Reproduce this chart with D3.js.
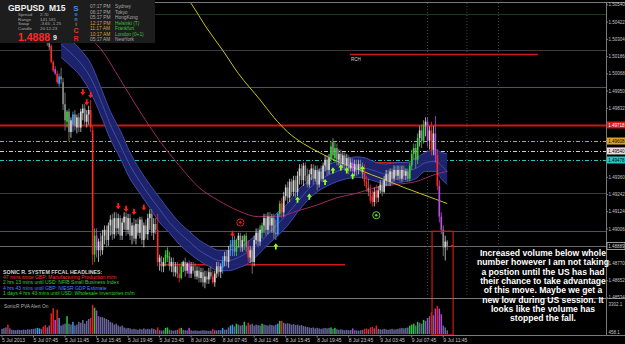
<!DOCTYPE html>
<html>
<head>
<meta charset="utf-8">
<script src="https://cdn.jsdelivr.net/npm/d3@7"></script>
<style>
  html, body { margin: 0; padding: 0; background: #000; }
  svg { display: block; }
  text { font-family: "Liberation Sans", Arial, sans-serif; }
</style>
</head>
<body>
<svg id="chart" width="625" height="344"></svg>
<script>
// ---- data (GBPUSD M15) ----
const candleStart = 23; // first visible bar index
const ohlc = [
  [1.5033,1.5037,1.5026,1.5029],[1.5029,1.5031,1.5023,1.5025],[1.5026,1.5027,1.5014,1.5015],[1.5015,1.5016,1.5008,1.5009],
  [1.5010,1.5012,1.5006,1.5007],[1.5007,1.5009,1.5000,1.5001],[1.5000,1.5007,1.4998,1.5005],[1.5005,1.5011,1.5000,1.5003],
  [1.5001,1.5004,1.4982,1.4986],[1.4986,1.4994,1.4968,1.4975],[1.4974,1.4982,1.4970,1.4981],[1.4981,1.4983,1.4961,1.4967],
  [1.4967,1.4977,1.4963,1.4975],[1.4972,1.4981,1.4967,1.4979],[1.4979,1.4982,1.4968,1.4971],[1.4970,1.4979,1.4966,1.4977],
  [1.4977,1.4980,1.4967,1.4970],[1.4970,1.4983,1.4967,1.4981],[1.4980,1.4986,1.4975,1.4983],[1.4983,1.4986,1.4972,1.4974],
  [1.4974,1.4982,1.4970,1.4979],[1.4979,1.4985,1.4972,1.4982],[1.4982,1.4989,1.4967,1.4970],[1.4968,1.4971,1.4876,1.4883],
  [1.4883,1.4901,1.4878,1.4896],[1.4896,1.4901,1.4881,1.4886],[1.4886,1.4894,1.4878,1.4892],[1.4892,1.4898,1.4882,1.4886],
  [1.4886,1.4900,1.4883,1.4896],[1.4896,1.4903,1.4890,1.4900],[1.4900,1.4903,1.4888,1.4893],[1.4893,1.4905,1.4889,1.4903],
  [1.4903,1.4910,1.4896,1.4907],[1.4907,1.4911,1.4893,1.4897],[1.4897,1.4912,1.4894,1.4908],[1.4908,1.4912,1.4896,1.4901],
  [1.4901,1.4911,1.4897,1.4908],[1.4908,1.4910,1.4893,1.4896],[1.4896,1.4908,1.4893,1.4905],[1.4905,1.4912,1.4900,1.4909],
  [1.4909,1.4912,1.4896,1.4900],[1.4900,1.4911,1.4897,1.4908],[1.4908,1.4911,1.4893,1.4896],[1.4896,1.4905,1.4890,1.4903],
  [1.4903,1.4908,1.4892,1.4894],[1.4894,1.4907,1.4890,1.4904],[1.4904,1.4908,1.4896,1.4898],[1.4898,1.4909,1.4894,1.4907],
  [1.4907,1.4909,1.4890,1.4893],[1.4893,1.4905,1.4888,1.4903],[1.4903,1.4907,1.4894,1.4897],[1.4897,1.4911,1.4893,1.4908],
  [1.4908,1.4914,1.4900,1.4911],[1.4911,1.4914,1.4896,1.4898],[1.4898,1.4908,1.4893,1.4904],[1.4904,1.4908,1.4897,1.4900],
  [1.4900,1.4911,1.4875,1.4878],[1.4878,1.4883,1.4872,1.4881],[1.4878,1.4882,1.4871,1.4875],[1.4875,1.4881,1.4871,1.4878],
  [1.4878,1.4886,1.4875,1.4883],[1.4881,1.4888,1.4878,1.4886],[1.4882,1.4885,1.4872,1.4875],[1.4875,1.4881,1.4871,1.4878],
  [1.4878,1.4881,1.4868,1.4871],[1.4871,1.4878,1.4868,1.4875],[1.4875,1.4878,1.4867,1.4870],[1.4870,1.4877,1.4864,1.4867],
  [1.4867,1.4878,1.4866,1.4875],[1.4875,1.4879,1.4871,1.4878],[1.4878,1.4881,1.4868,1.4872],[1.4872,1.4878,1.4870,1.4877],
  [1.4877,1.4879,1.4867,1.4870],[1.4870,1.4878,1.4867,1.4875],[1.4875,1.4878,1.4870,1.4872],[1.4872,1.4877,1.4866,1.4868],
  [1.4868,1.4875,1.4866,1.4872],[1.4872,1.4875,1.4864,1.4867],[1.4867,1.4874,1.4864,1.4871],[1.4871,1.4874,1.4861,1.4864],
  [1.4864,1.4872,1.4860,1.4868],[1.4868,1.4872,1.4863,1.4866],[1.4866,1.4874,1.4863,1.4871],[1.4871,1.4875,1.4866,1.4868],
  [1.4868,1.4872,1.4863,1.4864],[1.4864,1.4872,1.4861,1.4870],[1.4870,1.4878,1.4867,1.4875],[1.4875,1.4878,1.4868,1.4871],
  [1.4871,1.4877,1.4867,1.4875],[1.4874,1.4882,1.4870,1.4879],[1.4879,1.4885,1.4875,1.4882],[1.4882,1.4886,1.4875,1.4878],
  [1.4878,1.4889,1.4874,1.4886],[1.4886,1.4893,1.4882,1.4890],[1.4889,1.4896,1.4882,1.4893],[1.4893,1.4896,1.4882,1.4885],
  [1.4885,1.4894,1.4882,1.4893],[1.4893,1.4898,1.4888,1.4896],[1.4896,1.4898,1.4885,1.4888],[1.4888,1.4896,1.4885,1.4893],
  [1.4892,1.4897,1.4886,1.4896],[1.4896,1.4898,1.4885,1.4888],[1.4889,1.4893,1.4878,1.4881],[1.4881,1.4889,1.4877,1.4886],
  [1.4886,1.4889,1.4870,1.4878],[1.4878,1.4896,1.4875,1.4893],[1.4893,1.4901,1.4890,1.4898],[1.4898,1.4901,1.4888,1.4892],
  [1.4892,1.4903,1.4889,1.4900],[1.4898,1.4905,1.4894,1.4903],[1.4903,1.4911,1.4898,1.4908],[1.4908,1.4911,1.4896,1.4900],
  [1.4900,1.4912,1.4897,1.4909],[1.4909,1.4912,1.4898,1.4903],[1.4903,1.4911,1.4898,1.4908],[1.4908,1.4911,1.4894,1.4898],
  [1.4898,1.4907,1.4893,1.4897],[1.4897,1.4912,1.4896,1.4911],[1.4911,1.4920,1.4909,1.4918],[1.4918,1.4922,1.4908,1.4912],
  [1.4912,1.4926,1.4909,1.4923],[1.4923,1.4931,1.4920,1.4929],[1.4929,1.4933,1.4918,1.4922],[1.4922,1.4935,1.4919,1.4933],
  [1.4933,1.4935,1.4923,1.4926],[1.4926,1.4937,1.4923,1.4934],[1.4934,1.4937,1.4922,1.4926],[1.4926,1.4940,1.4923,1.4937],
  [1.4937,1.4945,1.4931,1.4942],[1.4942,1.4945,1.4931,1.4934],[1.4934,1.4946,1.4930,1.4944],[1.4944,1.4946,1.4933,1.4937],
  [1.4937,1.4942,1.4929,1.4931],[1.4931,1.4941,1.4929,1.4938],[1.4938,1.4945,1.4934,1.4942],[1.4942,1.4945,1.4931,1.4935],
  [1.4935,1.4944,1.4933,1.4941],[1.4941,1.4944,1.4927,1.4931],[1.4931,1.4942,1.4929,1.4940],[1.4940,1.4944,1.4933,1.4935],
  [1.4935,1.4946,1.4933,1.4944],[1.4944,1.4951,1.4940,1.4948],[1.4948,1.4951,1.4937,1.4941],[1.4941,1.4952,1.4938,1.4949],
  [1.4948,1.4961,1.4945,1.4957],[1.4960,1.4963,1.4948,1.4951],[1.4949,1.4960,1.4946,1.4956],[1.4956,1.4959,1.4944,1.4948],
  [1.4948,1.4955,1.4944,1.4952],[1.4952,1.4955,1.4942,1.4945],[1.4945,1.4953,1.4942,1.4951],[1.4951,1.4953,1.4941,1.4944],
  [1.4944,1.4952,1.4941,1.4949],[1.4949,1.4951,1.4938,1.4942],[1.4942,1.4949,1.4940,1.4946],[1.4946,1.4949,1.4937,1.4940],
  [1.4940,1.4948,1.4937,1.4945],[1.4945,1.4948,1.4937,1.4941],[1.4941,1.4948,1.4938,1.4945],[1.4945,1.4948,1.4940,1.4942],
  [1.4942,1.4946,1.4935,1.4938],[1.4940,1.4945,1.4930,1.4933],[1.4933,1.4937,1.4926,1.4929],[1.4929,1.4935,1.4923,1.4926],
  [1.4927,1.4931,1.4918,1.4920],[1.4923,1.4927,1.4916,1.4919],[1.4919,1.4929,1.4916,1.4926],[1.4927,1.4931,1.4918,1.4922],
  [1.4922,1.4930,1.4919,1.4927],[1.4927,1.4934,1.4925,1.4931],[1.4931,1.4934,1.4923,1.4926],[1.4926,1.4937,1.4925,1.4934],
  [1.4934,1.4941,1.4930,1.4938],[1.4938,1.4941,1.4930,1.4933],[1.4933,1.4942,1.4930,1.4940],[1.4940,1.4942,1.4931,1.4935],
  [1.4935,1.4944,1.4933,1.4941],[1.4941,1.4944,1.4934,1.4937],[1.4937,1.4944,1.4934,1.4941],[1.4941,1.4944,1.4933,1.4935],
  [1.4935,1.4944,1.4933,1.4941],[1.4941,1.4944,1.4934,1.4937],[1.4937,1.4942,1.4934,1.4940],[1.4940,1.4942,1.4933,1.4935],
  [1.4935,1.4946,1.4933,1.4944],[1.4944,1.4955,1.4941,1.4952],[1.4952,1.4959,1.4948,1.4956],[1.4956,1.4959,1.4942,1.4948],
  [1.4948,1.4966,1.4945,1.4963],[1.4963,1.4971,1.4957,1.4968],[1.4968,1.4972,1.4956,1.4961],[1.4961,1.4975,1.4959,1.4972],
  [1.4972,1.4977,1.4964,1.4974],[1.4974,1.4977,1.4957,1.4961],[1.4961,1.4971,1.4955,1.4968],[1.4968,1.4974,1.4951,1.4955],
  [1.4955,1.4971,1.4951,1.4966],[1.4966,1.4978,1.4946,1.4951],[1.4951,1.4955,1.4927,1.4930],[1.4930,1.4934,1.4905,1.4909],
  [1.4909,1.4912,1.4897,1.4900],[1.4900,1.4903,1.4882,1.4888],[1.4888,1.4896,1.4879,1.4892],[1.4892,1.4893,1.4886,1.4889]
];

// PVA class per bar from bar 0: . normal, r bear climax, g bull climax, b bull rising, m bear rising
const pvaType = [
  "...r......", "........bb", ".rr..rrmrb", "...g..b...", ".....rrgm.",
  "..........", "..........", ".........r", "...gg.....", "rg...m....",
  ".......r..", "..b...bb.g", "...g.r....", "..g.......", "bgr.......",
  "..........", ".......g.g", "........m.", "....rr.rr.", "r.........",
  ".......ggg", ".g..g.m.r.", "mrmm..."
].join("");

const volume = [
  550,620,700,1000,600,450,420,400,450,430,
  420,470,440,500,480,520,550,600,650,600,
  550,800,950,700,900,2200,2750,1500,2600,1700,
  900,1000,1100,1900,1100,1000,1300,900,1000,1300,
  1200,1500,1100,1400,1600,1700,3100,2800,2500,1900,
  1800,1800,1700,1600,1500,1300,1200,1000,1100,900,
  800,900,700,600,650,600,500,550,500,450,
  550,500,600,500,550,500,600,550,450,700,
  400,350,400,650,700,450,400,350,400,450,
  600,650,450,400,380,650,400,350,380,350,
  330,360,400,380,350,340,360,550,400,380,
  420,400,650,450,480,700,900,1000,800,1100,
  1000,900,950,1300,900,1200,1000,1100,900,1000,
  950,900,1100,1000,950,900,1000,950,900,1000,
  1100,1400,1400,1200,1100,1150,1100,1000,1050,950,
  1000,900,950,850,800,750,700,650,700,600,
  650,600,550,600,650,600,650,700,550,650,
  500,450,500,450,400,450,400,420,600,400,
  380,350,400,420,550,600,500,700,750,600,
  900,550,500,480,550,500,450,500,550,480,
  500,550,600,650,600,650,700,900,1000,1100,
  900,1300,1200,1100,1500,1400,1700,1900,2300,2000,
  2700,3000,2700,2100,900,700,400
];

// Sonic R dragon (EMA34 of high / close / low)
const dragonBars = [30,35,40,45,50,55,60,65,70,75,80,85,90,95,100,105,110,115,120,125,130,135,140,145,150,155,160,165,170,175,180,185,190,195,200,205,210,215,220,223,226];
const dragonHigh = [1.5035,1.5030,1.5023,1.5014,1.4998,1.4981,1.4968,1.4953,1.4941,1.4931,1.4922,1.4913,1.4905,1.4899,1.4893,1.4889,1.4886,1.4886,1.4888,1.4892,1.4898,1.4905,1.4912,1.4918,1.4927,1.4933,1.4940,1.4944,1.4947,1.4949,1.4950,1.4949,1.4946,1.4945,1.4946,1.4946,1.4949,1.4953,1.4955,1.4953,1.4952];
const dragonClose = [1.5027,1.5021,1.5014,1.5004,1.4989,1.4972,1.4958,1.4944,1.4933,1.4923,1.4914,1.4905,1.4898,1.4892,1.4886,1.4882,1.4879,1.4879,1.4881,1.4885,1.4890,1.4897,1.4904,1.4911,1.4919,1.4927,1.4933,1.4937,1.4940,1.4942,1.4943,1.4942,1.4940,1.4938,1.4939,1.4940,1.4942,1.4946,1.4947,1.4944,1.4940];
const dragonLow = [1.5018,1.5012,1.5005,1.4994,1.4979,1.4962,1.4949,1.4935,1.4925,1.4915,1.4905,1.4898,1.4890,1.4884,1.4879,1.4875,1.4872,1.4872,1.4874,1.4877,1.4883,1.4890,1.4896,1.4903,1.4912,1.4920,1.4926,1.4930,1.4933,1.4935,1.4936,1.4935,1.4933,1.4931,1.4932,1.4933,1.4935,1.4940,1.4940,1.4935,1.4931];

const ema89Bars = [45,50,60,70,80,90,100,110,120,130,140,150,160,170,180,190,200,210,220,226];
const ema89 = [1.5031,1.5024,1.5003,1.4981,1.4961,1.4944,1.4929,1.4920,1.4913,1.4909,1.4909,1.4913,1.4917,1.4922,1.4925,1.4929,1.4931,1.4933,1.4938,1.4940];

const ema200Bars = [90,96,104,112,120,131,138,145,153,161,170,178,187,195,204,212,220,226];
const ema200 = [1.5066,1.5055,1.5038,1.5023,1.5007,1.4989,1.4977,1.4967,1.4959,1.4953,1.4947,1.4943,1.4938,1.4934,1.4929,1.4925,1.4921,1.4918];

const sellBars = [41,43,45,59,63,67,72,117];
const sellPrices = [1.4994,1.4987,1.4992,1.4916,1.4914,1.4912,1.4915,1.4897];
const buyBars = [139,150,156,164,168,172,175,178,183];
const buyPrices = [1.4889,1.4921,1.4923,1.4933,1.4941,1.4943,1.4941,1.4937,1.4942];
const markBars = [121,190];
const markPrices = [1.4905,1.4910];

const levelPrices = [1.5048,1.5023,1.4998,1.49718,1.49608,1.49540,1.49478,1.4925,1.4899,1.48889];
const segPrices = [1.5020,1.4946,1.4876];
const segFrom = [176.6,176.6,80.2];
const segTo = [272,222.3,174.1];
const newsBars = [216,236,252];
const boxBars = [218.3,229];
const boxTopPrice = 1.4899;

const priceTicks = [1.50540,1.50422,1.50304,1.50186,1.50068,1.49950,1.49832,1.49714,1.49596,1.49478,1.49360,1.49242,1.49124,1.49006,1.48888,1.48770,1.48652,1.48534];
const timeTickBars = [0,16,32,48,64,80,96,112,128,144,160,176,192,208,224];
const timeTickLabels = ["5 Jul 2013","5 Jul 07:45","5 Jul 11:45","5 Jul 15:45","5 Jul 19:45","5 Jul 23:45","8 Jul 03:45","8 Jul 07:45","8 Jul 11:45","8 Jul 15:45","8 Jul 19:45","8 Jul 23:45","9 Jul 03:45","9 Jul 07:45","9 Jul 11:45"];
const volTicks = [3302.1, 458.1];

const sessionTimes = ["07:17 PM","06:17 PM","05:17 PM","12:17 PM","11:17 AM","10:17 AM","05:17 AM"];
const sessionCities = ["Sydney","Tokyo","HongKong","Helsinki (T)","Frankfurt","London (0+1)","NewYork"];
const headlines = [
  "47 mins since GBP: Manufacturing Production m/m",
  "2 hrs 13 mins until USD: NFIB Small Business Index",
  "4 hrs 43 mins until GBP: NIESR GDP Estimate",
  "1 days 4 hrs 43 mins until USD: Wholesale Inventories m/m"
];
const noteLines = [
  "Increased volume below whole",
  "number however I am not taking",
  "a postion until the US has had",
  "their chance to take advantage",
  "of this move. Maybe we get a",
  "new low during US session.  It",
  "looks like the volume has",
  "stopped the fall."
];

// ---- scales ----
const svg = d3.select("#chart");
const axisX = 606;
const x = d3.scaleLinear().domain([0, 304]).range([2, 2 + 304 * 1.97]);
const y = d3.scaleLinear().domain([1.48540, 1.50553]).range([297, 3]);
const vy = d3.scaleLinear().domain([0, 3302.1]).range([334, 303]);

svg.append("rect").attr("width", 625).attr("height", 344).attr("fill", "#000");

const defs = svg.append("defs");
defs.append("clipPath").attr("id", "clipMain").append("rect")
  .attr("x", 0).attr("y", 3).attr("width", axisX).attr("height", 294);
defs.append("clipPath").attr("id", "clipVol").append("rect")
  .attr("x", 0).attr("y", 300).attr("width", axisX).attr("height", 35);

const main = svg.append("g").attr("clip-path", "url(#clipMain)");

// horizontal levels
const levelStyle = [
  { c: "#1d3a1d", w: 1, d: null },
  { c: "#3c3c3c", w: 1, d: null },
  { c: "#4a4a96", w: 1, d: null },
  { c: "#c81818", w: 2, d: null },
  { c: "#e0a030", w: 1, d: "4,2,1,2" },
  { c: "#e6c8cc", w: 1, d: "4,2,1,2" },
  { c: "#20c4c4", w: 1, d: "4,2,1,2" },
  { c: "#3c3c3c", w: 1, d: null },
  { c: "#4a4a96", w: 1, d: null },
  { c: "#6a6a6a", w: 1, d: null }
];
main.selectAll(".level").data(levelPrices).enter().append("line")
  .attr("x1", 0).attr("x2", axisX)
  .attr("y1", d => Math.round(y(d)) + 0.5).attr("y2", d => Math.round(y(d)) + 0.5)
  .attr("stroke", (d, i) => levelStyle[i].c)
  .attr("stroke-width", (d, i) => levelStyle[i].w)
  .attr("stroke-dasharray", (d, i) => levelStyle[i].d);

// drawn red segments
main.selectAll(".seg").data(segPrices).enter().append("line")
  .attr("x1", (d, i) => x(segFrom[i])).attr("x2", (d, i) => x(segTo[i]))
  .attr("y1", d => y(d)).attr("y2", d => y(d))
  .attr("stroke", "#d01818").attr("stroke-width", 1.5);
main.append("text").attr("x", x(segFrom[0]) + 1).attr("y", y(segPrices[0]) + 6)
  .attr("fill", "#d8d8d8").attr("font-size", 4.5).text("RCH");

// news vertical lines
main.selectAll(".news").data(newsBars).enter().append("line")
  .attr("x1", d => x(d)).attr("x2", d => x(d)).attr("y1", 3).attr("y2", 297)
  .attr("stroke", "#444").attr("stroke-dasharray", "1,2");

// dragon band
const dragon = dragonBars.map((b, i) => ({ b, h: dragonHigh[i], c: dragonClose[i], l: dragonLow[i] }));
main.append("path").datum(dragon)
  .attr("d", d3.area().x(d => x(d.b)).y0(d => y(d.l)).y1(d => y(d.h)).curve(d3.curveMonotoneX))
  .attr("fill", "#1e2570").attr("opacity", 0.95);
["h", "c", "l"].forEach(k => {
  main.append("path").datum(dragon)
    .attr("d", d3.line().x(d => x(d.b)).y(d => y(d[k])).curve(d3.curveMonotoneX))
    .attr("fill", "none").attr("stroke", "#4550b2").attr("stroke-width", 0.9);
});

// EMA 89 and EMA 200
main.append("path").datum(ema89Bars.map((b, i) => [b, ema89[i]]))
  .attr("d", d3.line().x(d => x(d[0])).y(d => y(d[1])).curve(d3.curveMonotoneX))
  .attr("fill", "none").attr("stroke", "#9a2c62").attr("stroke-width", 1);
main.append("path").datum(ema200Bars.map((b, i) => [b, ema200[i]]))
  .attr("d", d3.line().x(d => x(d[0])).y(d => y(d[1])).curve(d3.curveMonotoneX))
  .attr("fill", "none").attr("stroke", "#c8c41c").attr("stroke-width", 1);

// candles
const pvaColor = { r: "#ff2a2a", g: "#2edc2e", b: "#3aa0ff", m: "#c04ce6" };
const candles = ohlc.map((d, k) => {
  const i = candleStart + k;
  const t = pvaType[i] || ".";
  const bull = d[3] >= d[0];
  return { i, o: d[0], h: d[1], l: d[2], c: d[3],
    col: t !== "." ? pvaColor[t] : (bull ? "#d6d6d6" : "#8c8c8c") };
});
const cg = main.append("g");
cg.selectAll(".wick").data(candles).enter().append("line")
  .attr("x1", d => x(d.i)).attr("x2", d => x(d.i))
  .attr("y1", d => y(d.h)).attr("y2", d => y(d.l))
  .attr("stroke", d => d.col).attr("stroke-width", 0.8);
cg.selectAll(".body").data(candles).enter().append("rect")
  .attr("x", d => x(d.i) - 0.8).attr("width", 1.6)
  .attr("y", d => y(Math.max(d.o, d.c)))
  .attr("height", d => Math.max(0.7, Math.abs(y(d.o) - y(d.c))))
  .attr("fill", d => d.col);

// signal arrows
const downArrow = "M-0.9,-3.5h1.8v3h1.6l-2.5,3.2l-2.5,-3.2h1.6z";
const upArrow = "M-0.9,3.5h1.8v-3h1.6l-2.5,-3.2l-2.5,3.2h1.6z";
main.selectAll(".sell").data(sellBars).enter().append("path")
  .attr("transform", (d, i) => `translate(${x(d)},${y(sellPrices[i])})`)
  .attr("d", downArrow).attr("fill", "#ff1e1e");
main.selectAll(".buy").data(buyBars).enter().append("path")
  .attr("transform", (d, i) => `translate(${x(d)},${y(buyPrices[i])})`)
  .attr("d", upArrow).attr("fill", "#8cff1a");
const markCol = ["#e02020", "#5ad22a"];
markBars.forEach((b, i) => {
  const g = main.append("g").attr("transform", `translate(${x(b)},${y(markPrices[i])})`);
  g.append("circle").attr("r", 3.6).attr("fill", "none").attr("stroke", markCol[i]).attr("stroke-width", 1);
  g.append("circle").attr("r", 1.3).attr("fill", markCol[i]);
});
main.append("circle").attr("cx", x(boxBars[1]) - 1).attr("cy", y(levelPrices[9])).attr("r", 1.3).attr("fill", "#e02020");

// volume window (Sonic R PVA)
const vol = svg.append("g").attr("clip-path", "url(#clipVol)");
const volColor = { r: "#e42222", g: "#28c83c", b: "#3a9ae6", m: "#b444d8" };
vol.selectAll(".vbar").data(volume).enter().append("rect")
  .attr("x", (d, i) => x(i) - 0.75).attr("width", 1.5)
  .attr("y", d => vy(d)).attr("height", d => vy(0) - vy(d))
  .attr("fill", (d, i) => volColor[pvaType[i]] || "#66669a");
svg.append("text").attr("x", 4).attr("y", 307.5).attr("fill", "#b0b0b0")
  .attr("font-size", 4.8).text("SonicR PVA   Alert On");

// red box across both windows
svg.append("rect")
  .attr("x", x(boxBars[0])).attr("y", y(boxTopPrice))
  .attr("width", x(boxBars[1]) - x(boxBars[0])).attr("height", vy(0) + 1 - y(boxTopPrice))
  .attr("fill", "none").attr("stroke", "#d01818").attr("stroke-width", 1.2);

// frame
const frame = svg.append("g").attr("stroke", "#7a7a7a").attr("stroke-width", 1);
frame.append("line").attr("x1", 0).attr("x2", 625).attr("y1", 2.5).attr("y2", 2.5);
frame.append("line").attr("x1", 0).attr("x2", 625).attr("y1", 298.5).attr("y2", 298.5);
frame.append("line").attr("x1", 0).attr("x2", 625).attr("y1", 335.5).attr("y2", 335.5);
frame.append("line").attr("x1", axisX + 0.5).attr("x2", axisX + 0.5).attr("y1", 2).attr("y2", 336);

// price axis
const pa = svg.append("g");
pa.selectAll(".pt").data(priceTicks).enter().append("text")
  .attr("x", axisX + 2.5).attr("y", d => y(d) + 1.6)
  .attr("fill", "#c4c4c4").attr("font-size", 4.5).text(d => d.toFixed(5));
pa.selectAll(".ptk").data(priceTicks).enter().append("line")
  .attr("x1", axisX).attr("x2", axisX + 2).attr("y1", d => y(d)).attr("y2", d => y(d))
  .attr("stroke", "#7a7a7a");
// price markers on axis
const markerIdx = [3, 4, 5, 6, 9];
const markerFill = ["#d01818", "#e0a030", "#f0dcdc", "#22c8c8", "#000"];
const markerText = ["#fff", "#000", "#000", "#000", "#d0d0d0"];
markerIdx.forEach((li, k) => {
  const py = y(levelPrices[li]);
  pa.append("rect").attr("x", axisX + 1).attr("y", py - 3.5).attr("width", 18).attr("height", 7)
    .attr("fill", markerFill[k]).attr("stroke", k === 4 ? "#c0c0c0" : "none").attr("stroke-width", 0.8);
  pa.append("text").attr("x", axisX + 2.3).attr("y", py + 1.6).attr("fill", markerText[k])
    .attr("font-size", 4.5).text(levelPrices[li].toFixed(5));
});
// volume axis
pa.selectAll(".vt").data(volTicks).enter().append("text")
  .attr("x", axisX + 2.5).attr("y", (d, i) => i === 0 ? vy(d) + 2.5 : 334)
  .attr("fill", "#c4c4c4").attr("font-size", 4.5).text(d => d.toFixed(1));

// time axis
const ta = svg.append("g");
ta.selectAll(".tl").data(timeTickBars).enter().append("text")
  .attr("x", d => x(d)).attr("y", 342)
  .attr("fill", "#c4c4c4").attr("font-size", 5).text((d, i) => timeTickLabels[i]);
ta.selectAll(".tk").data(timeTickBars).enter().append("line")
  .attr("x1", d => x(d)).attr("x2", d => x(d)).attr("y1", 335).attr("y2", 337.5)
  .attr("stroke", "#7a7a7a");

// info panel
const panel = svg.append("g");
panel.append("rect").attr("x", 0).attr("y", 0).attr("width", 155).attr("height", 43).attr("fill", "#1d1d1d");
panel.append("text").attr("x", 8).attr("y", 11).attr("fill", "#f0f0f0").attr("font-size", 8.5)
  .attr("font-weight", "bold").text("GBPUSD");
panel.append("text").attr("x", 49).attr("y", 11).attr("fill", "#f0f0f0").attr("font-size", 8.5)
  .attr("font-weight", "bold").text("M15");
const infoLab = ["Spread", "Range", "Swap", "Candle"];
const infoVal = ["2.70", "141.181", "-3.65  -1.25", "20:12:23"];
infoLab.forEach((t, i) => {
  panel.append("text").attr("x", 18).attr("y", 16.3 + i * 4.4).attr("fill", "#a8a8a8").attr("font-size", 4.4).text(t);
  panel.append("text").attr("x", 40).attr("y", 16.3 + i * 4.4).attr("fill", "#a8a8a8").attr("font-size", 4.4).text(infoVal[i]);
});
panel.append("text").attr("x", 18).attr("y", 40.5).attr("fill", "#ff2828").attr("font-size", 10.5)
  .attr("font-weight", "bold").text("1.4888");
panel.append("text").attr("x", 53).attr("y", 40).attr("fill", "#f0f0f0").attr("font-size", 7)
  .attr("font-weight", "bold").text("9");
const sonic = [["S", "#3a8ee8", 8, 10.5], ["o", "#3a8ee8", 5, 16], ["n", "#3a8ee8", 5, 21], ["i", "#e07828", 5, 26],
  ["C", "#e04020", 7, 33], ["R", "#e82020", 7, 41]];
sonic.forEach(s => panel.append("text").attr("x", 76).attr("y", s[3]).attr("text-anchor", "middle")
  .attr("fill", s[1]).attr("font-size", s[2]).attr("font-weight", "bold").text(s[0]));
const rowCol = ["#a8a8a8", "#a8a8a8", "#a8a8a8", "#d8a040", "#d8a040", "#d8a040", "#a8a8a8"];
const cityCol = ["#a8a8a8", "#a8a8a8", "#a8a8a8", "#3cc03c", "#3cc03c", "#3cc03c", "#a8a8a8"];
sessionTimes.forEach((t, i) => {
  panel.append("text").attr("x", 90).attr("y", 8 + i * 5.5).attr("fill", rowCol[i]).attr("font-size", 4.8).text(t);
  panel.append("text").attr("x", 115).attr("y", 8 + i * 5.5).attr("fill", cityCol[i]).attr("font-size", 4.8).text(sessionCities[i]);
});

// headlines
const hl = svg.append("g");
hl.append("text").attr("x", 3).attr("y", 273.5).attr("fill", "#d8d8d8").attr("font-size", 5.3)
  .attr("font-weight", "bold").text("SONIC R. SYSTEM FFCAL HEADLINES:");
const hlCol = ["#ff3030", "#30d030", "#4f7fff", "#30d030"];
headlines.forEach((t, i) => hl.append("text").attr("x", 3).attr("y", 279.3 + i * 5.1)
  .attr("fill", hlCol[i]).attr("font-size", 5).text(t));

// annotation
const note = svg.append("g");
noteLines.forEach((t, i) => note.append("text").attr("x", 543).attr("y", 255.8 + i * 9.35)
  .attr("text-anchor", "middle").attr("fill", "#fff").attr("font-size", 8.6)
  .attr("font-weight", "bold").text(t));
</script>
</body>
</html>
